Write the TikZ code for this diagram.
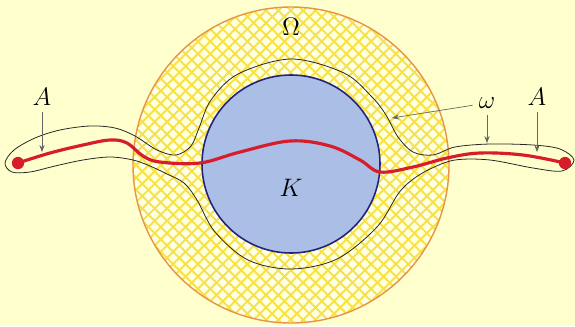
\documentclass[tikz,border=0pt]{standalone}
\usepackage{amsmath}
\usetikzlibrary{arrows.meta,patterns.meta}

\definecolor{bgyellow}{RGB}{255,255,206}
\definecolor{hatchyellow}{RGB}{246,226,70}
\definecolor{rimorange}{RGB}{232,148,72}
\definecolor{kblue}{RGB}{170,190,230}
\definecolor{kborder}{RGB}{35,35,125}
\definecolor{curvered}{RGB}{215,28,42}

\begin{document}
\begin{tikzpicture}[
    x = 0.02cm, y = -0.02cm,
    every node/.style = {font=\Large},
    hatch/.style = {
        pattern={Lines[angle=#1,distance=0.175cm,line width=1.1pt]},
        pattern color=hatchyellow
    },
    kdisc/.style = {
        fill=kblue,
        draw=kborder,
        line width=0.9pt
    },
    tube/.style = {
        draw=black!85,
        line width=0.45pt
    },
    redline/.style = {
        draw=curvered,
        line width=1.8pt
    },
    dot/.style = {
        circle,
        fill=curvered,
        inner sep=0pt,
        minimum size=7pt
    },
    arrow/.style = {
        -{Stealth[length=4pt,width=3pt]},
        draw=black!60,
        line width=0.4pt
    }
]

\useasboundingbox (0,0) rectangle (575,326);
\fill[bgyellow] (0,0) rectangle (575,326);

% the set Omega
\fill[white!40!bgyellow] (291,165) circle [radius=158];
\fill[hatch=45] (291,165) circle [radius=158];
\fill[hatch=-45] (291,165) circle [radius=158];
\draw[rimorange, line width=0.8pt] (291,165) circle [radius=158];

% the compact K
\filldraw[kdisc] (291,164) circle [radius=89];

% the neighbourhood omega
\draw[tube] plot[smooth cycle, tension=0.55] coordinates {
    (5,163) (14,150) (35,138) (60,130) (90,126) (115,128) (135,136)
    (157,150) (176,155) (191,146) (199,128) (211,100) (238,74) (291,59)
    (344,73) (372,97) (386,115) (398,137) (413,152) (433,155) (455,147)
    (490,144) (533,145) (560,149) (574,160) (562,171) (533,168) (490,160)
    (455,160) (430,169) (412,180) (398,194) (377,227) (337,259) (291,269)
    (248,260) (215,232) (197,200) (184,183) (167,174) (150,166) (133,160)
    (110,157) (83,160) (55,166) (30,172) (12,172)
};

% the arc A
\node[dot] (endL) at (18,163) {};
\node[dot] (endR) at (565,163) {};
\draw[redline] plot[smooth, tension=0.6] coordinates {
    (endL.center) (50,153) (83,145) (110,140) (127,143) (143,156) (160,162)
    (200,163) (240,152) (290,141) (330,146) (360,160) (380,172) (413,167)
    (447,158) (480,153) (523,155) (endR.center)
};

% labels
\node (lblOmega) at (291,27) {$\Omega$};
\node (lblK) at (291,188) {$K$};
\node (lblA1) at (42,97) {$A$};
\node (lblA2) at (537,97) {$A$};
\node (lblomega) at (487,103) {$\omega$};

\coordinate (tipA1) at (42,152);
\coordinate (tipA2) at (537,152);
\coordinate (tipw1) at (392,118);
\coordinate (tipw2) at (487,143);

\draw[arrow] (lblA1) -- (tipA1);
\draw[arrow] (lblA2) -- (tipA2);
\draw[arrow] (lblomega) -- (tipw1);
\draw[arrow] (lblomega) -- (tipw2);

\end{tikzpicture}
\end{document}
